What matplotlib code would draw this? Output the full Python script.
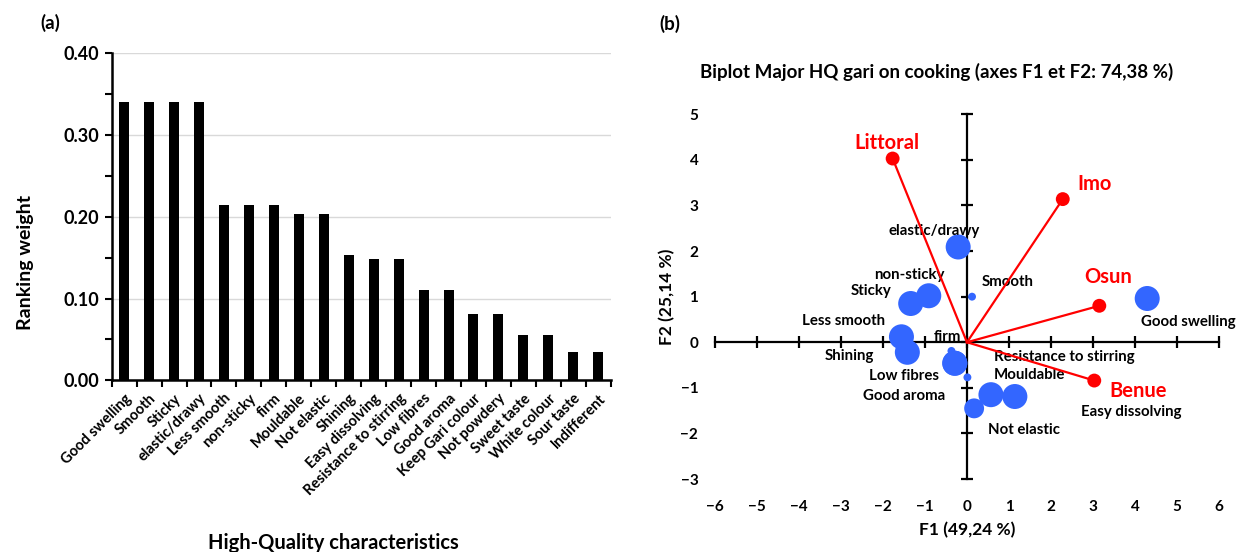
import numpy as np
import matplotlib
matplotlib.use("Agg")
import matplotlib.pyplot as plt
from matplotlib.ticker import MultipleLocator

plt.rcParams['font.family'] = ['Lato', 'DejaVu Sans']
plt.rcParams['font.weight'] = 'bold'
plt.rcParams['axes.labelweight'] = 'bold'

# (a) ranking weights of high-quality characteristics
traits = ["Good swelling", "Smooth", "Sticky", "elastic/drawy", "Less smooth",
          "non-sticky", "firm", "Mouldable", "Not elastic", "Shining",
          "Easy dissolving", "Resistance to stirring", "Low fibres", "Good aroma",
          "Keep Gari colour", "Not powdery", "Sweet taste", "White colour",
          "Sour taste", "Indifferent"]
weights = [0.340, 0.340, 0.340, 0.340, 0.215, 0.215, 0.215, 0.204, 0.204, 0.153,
           0.149, 0.149, 0.111, 0.111, 0.081, 0.081, 0.056, 0.056, 0.035, 0.035]

# (b) biplot: attributes (blue) and regions (red)
attr_names = ["Good swelling", "elastic/drawy", "Smooth", "non-sticky", "Sticky",
              "Less smooth", "Shining", "firm", "Low fibres", "Good aroma",
              "Mouldable", "Resistance to stirring", "Easy dissolving", "Not elastic"]
attr_f1 = [4.29, -0.21, 0.12, -0.91, -1.34, -1.56, -1.42, -0.37, -0.29, -0.29,
           0.01, 0.57, 1.14, 0.17]
attr_f2 = [0.96, 2.09, 1.00, 1.02, 0.85, 0.12, -0.22, -0.19, -0.46, -0.46,
           -0.77, -1.15, -1.19, -1.45]
attr_weight = [3, 3, 0.3, 3, 3, 3, 3, 0.3, 3, 3, 0.3, 3, 3, 1.9]

region_names = ["Littoral", "Imo", "Osun", "Benue"]
region_f1 = [-1.77, 2.28, 3.15, 3.03]
region_f2 = [4.03, 3.14, 0.80, -0.84]

# label placement (data coords of label centres)
attr_lx = [5.27, -0.79, 0.96, -1.37, -2.28, -2.93, -2.79, -0.46, -1.50, -1.49,
           1.48, 2.32, 3.91, 1.35]
attr_ly = [0.45, 2.44, 1.32, 1.47, 1.12, 0.47, -0.30, 0.12, -0.73, -1.18,
           -0.72, -0.33, -1.53, -1.92]
region_lx = [-1.90, 3.03, 3.35, 4.08]
region_ly = [4.37, 3.47, 1.44, -1.08]

BLUE = "#3366ff"
RED = "#ff0000"

fig = plt.figure(figsize=(12.41, 5.52), dpi=100)

# ---------- panel (a) ----------
ax1 = fig.add_axes([0.090, 0.311, 0.4021, 0.5924])
x = np.arange(len(traits))
ax1.bar(x, weights, width=0.4, color="black", zorder=3)
ax1.set_xlim(-0.5, len(traits) - 0.5)
ax1.set_ylim(0, 0.40)
ax1.yaxis.set_major_locator(MultipleLocator(0.10))
ax1.yaxis.set_minor_locator(MultipleLocator(0.05))
ax1.yaxis.set_major_formatter(matplotlib.ticker.FormatStrFormatter("%.2f"))
ax1.grid(axis="y", color="#d9d9d9", linewidth=1.0, zorder=0)
ax1.set_xticks(x)
ax1.set_xticklabels(traits, rotation=45, ha="right", rotation_mode="anchor",
                    fontsize=10.5)
ax1.set_xticks(np.arange(-0.5, len(traits)), minor=True)
ax1.tick_params(axis="x", which="major", length=0, pad=8)
ax1.tick_params(axis="x", which="minor", length=5, width=1.5)
ax1.tick_params(axis="y", which="both", length=5, width=1.5, labelsize=13, pad=4)
for s in ["top", "right"]:
    ax1.spines[s].set_visible(False)
for s in ["left", "bottom"]:
    ax1.spines[s].set_linewidth(1.8)

fig.text(25 / 1241, 1 - 262 / 552, "Ranking weight", rotation=90,
         ha="center", va="center", fontsize=14)
fig.text(333 / 1241, 1 - 543 / 552, "High-Quality characteristics",
         ha="center", va="center", fontsize=14.5)
fig.text(50 / 1241, 1 - 23 / 552, "(a)", ha="center", va="center", fontsize=13.5)

# ---------- panel (b) ----------
ax2 = fig.add_axes([0.5761, 0.1322, 0.4062, 0.6607])
ax2.set_xlim(-6, 6)
ax2.set_ylim(-3, 5)
ax2.spines["left"].set_position("zero")
ax2.spines["bottom"].set_position("zero")
for s in ["top", "right"]:
    ax2.spines[s].set_visible(False)
for s in ["left", "bottom"]:
    ax2.spines[s].set_linewidth(1.6)
ax2.set_xticks(range(-6, 7))
ax2.set_yticks(range(-3, 6))
ax2.tick_params(direction="inout", length=9, width=1.6,
                labelbottom=False, labelleft=False)

secx = ax2.secondary_xaxis("bottom")
secx.set_xticks(range(-6, 7))
secx.spines["bottom"].set_visible(False)
secx.tick_params(length=0, pad=15, labelsize=11)
secy = ax2.secondary_yaxis("left")
secy.set_yticks(range(-3, 6))
secy.spines["left"].set_visible(False)
secy.tick_params(length=0, pad=12, labelsize=11)

sizes = [w * 108 for w in attr_weight]
ax2.scatter(attr_f1, attr_f2, s=sizes, color=BLUE, edgecolors="none", zorder=3)
for name, lx, ly in zip(attr_names, attr_lx, attr_ly):
    ax2.text(lx, ly, name, ha="center", va="center", fontsize=10.8, zorder=3)

for fx, fy in zip(region_f1, region_f2):
    ax2.plot([0, fx], [0, fy], color=RED, linewidth=1.6, zorder=4)
ax2.scatter(region_f1, region_f2, s=100, color=RED, edgecolors="none", zorder=5)
for name, lx, ly in zip(region_names, region_lx, region_ly):
    ax2.text(lx, ly, name, ha="center", va="center", fontsize=14.5, color=RED,
             zorder=5)

fig.text(937 / 1241, 1 - 72 / 552,
         "Biplot Major HQ gari on cooking (axes F1 et F2: 74,38 %)",
         ha="center", va="center", fontsize=13.5)
fig.text(967 / 1241, 1 - 530 / 552, "F1 (49,24 %)", ha="center", va="center",
         fontsize=12.5)
fig.text(667 / 1241, 1 - 297 / 552, "F2 (25,14 %)", rotation=90, ha="center",
         va="center", fontsize=12.5)
fig.text(670 / 1241, 1 - 24 / 552, "(b)", ha="center", va="center", fontsize=13.5)

fig.savefig("out.png", dpi=100)
